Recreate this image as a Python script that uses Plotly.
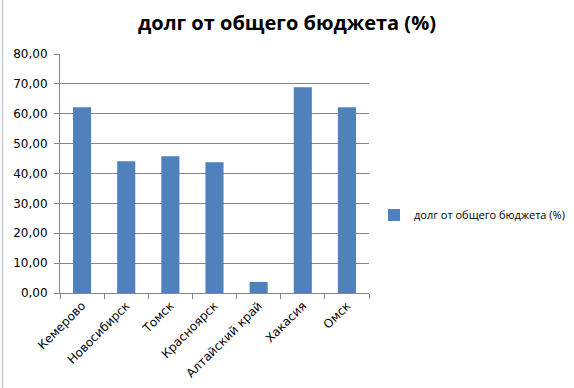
import plotly.graph_objects as go

categories = ["Кемерово", "Новосибирск", "Томск", "Красноярск", "Алтайский край", "Хакасия", "Омск"]
values = [62.2, 44.1, 45.8, 43.8, 3.7, 68.9, 62.2]
series_name = "долг от общего бюджета (%)"
title_text = "долг от общего бюджета (%)"

W, H = 574, 388
L, R, T, B = 60, 205, 54, 95
pw = W - L - R
ph = H - T - B

fig = go.Figure()
fig.add_trace(go.Bar(
    x=categories, y=values, name=series_name,
    marker=dict(color="#4F81BD", line=dict(width=0)),
    showlegend=True,
))

fig.update_layout(
    width=W, height=H,
    margin=dict(l=L, r=R, t=T, b=B, autoexpand=False),
    paper_bgcolor="white", plot_bgcolor="white",
    separators=", ",
    bargap=0.59,
    title=dict(text="<b>" + title_text + "</b>", x=0.5, xanchor="center",
               y=1 - 23 / H, yanchor="middle",
               font=dict(family="Open Sans", size=20, color="black")),
    font=dict(family="DejaVu Sans", size=12, color="black"),
    showlegend=True,
    legend=dict(x=(374 - L) / pw, xanchor="left", y=(H - B - 215) / ph, yanchor="middle",
                font=dict(family="Open Sans", size=11, color="black"),
                bgcolor="rgba(0,0,0,0)", borderwidth=0),
    xaxis=dict(
        showline=True, linecolor="#868686", linewidth=1,
        ticks="outside", ticklen=5, tickcolor="#868686",
        tickson="boundaries", tickangle=-45,
        tickfont=dict(family="DejaVu Sans", size=12, color="black"),
        showgrid=False,
    ),
    yaxis=dict(
        range=[0, 80], dtick=10, tickformat=".2f",
        showline=True, linecolor="#868686", linewidth=1,
        ticks="outside", ticklen=5, tickcolor="#868686",
        ticklabelstandoff=4,
        showgrid=True, gridcolor="#868686", gridwidth=1,
        zeroline=False,
        tickfont=dict(family="DejaVu Sans", size=12, color="black"),
    ),
    shapes=[dict(type="line", xref="paper", yref="paper",
                 x0=(2.5 - L) / pw, x1=(2.5 - L) / pw,
                 y0=-B / ph, y1=1 + T / ph,
                 line=dict(color="#C8CDD2", width=1.5))],
)

fig.write_html("out.html",
               config={"displayModeBar": False},
               post_script="document.body.style.margin='0';document.body.style.padding='0';")
